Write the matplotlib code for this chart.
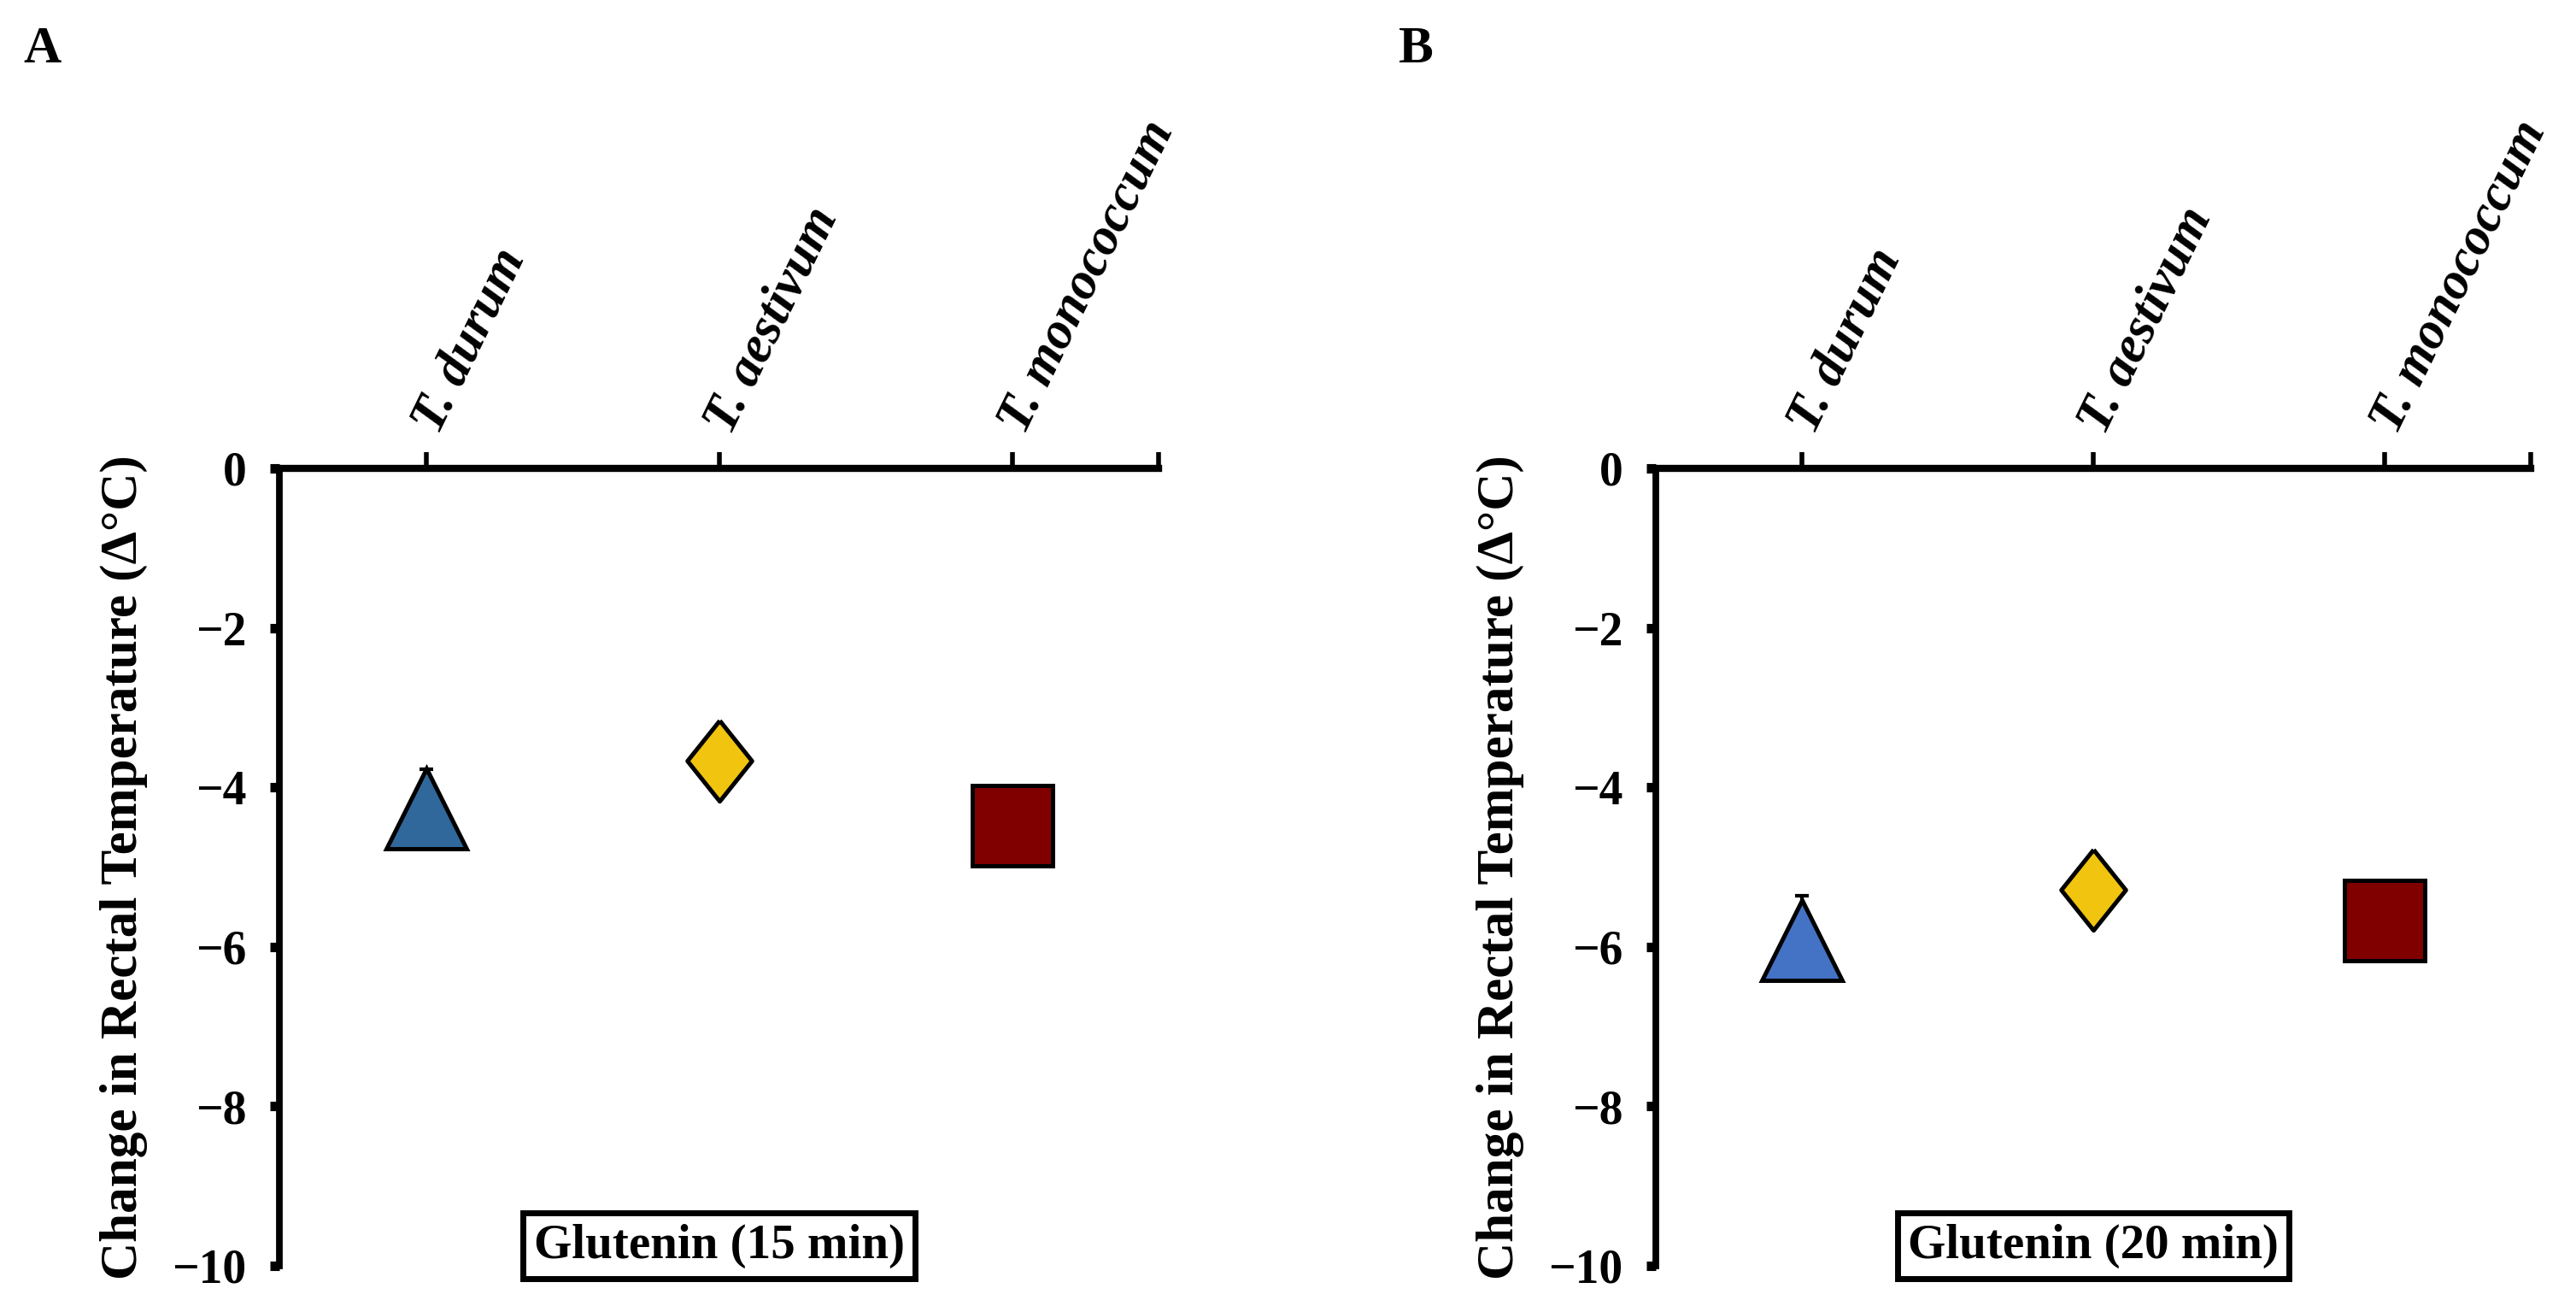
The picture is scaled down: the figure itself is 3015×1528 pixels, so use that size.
import matplotlib
matplotlib.use("Agg")
import matplotlib.pyplot as plt
from matplotlib.ticker import FixedLocator

plt.rcParams['font.family'] = ['Liberation Serif', 'DejaVu Serif']
plt.rcParams['font.weight'] = 'bold'

# data
species = ["T. durum", "T. aestivum", "T. monococcum"]
glut15_mean = [-4.27, -3.67, -4.48]
glut15_err = [0.50, 0.30, 0.30]
glut20_mean = [-5.92, -5.28, -5.67]
glut20_err = [0.56, 0.30, 0.30]
panel_titles = ["Glutenin (15 min)", "Glutenin (20 min)"]
panel_letters = ["A", "B"]
yticks = [0, -2, -4, -6, -8, -10]

diamond = [(0, 1), (0.8, 0), (0, -1), (-0.8, 0), (0, 1)]
markers = ["^", diamond, "s"]
colors_a = ["#31689B", "#F1C40F", "#800000"]
colors_b = ["#4472C4", "#F1C40F", "#800000"]

fig = plt.figure(figsize=(15.075, 7.64), dpi=200)
axA = fig.add_axes([0.1085, 0.0308, 0.3413, 0.6106])
axB = fig.add_axes([0.6428, 0.0308, 0.3396, 0.6106])

panels = [
    (axA, glut15_mean, glut15_err, colors_a),
    (axB, glut20_mean, glut20_err, colors_b),
]

for i, (ax, means, errs, cols) in enumerate(panels):
    xs = list(range(1, len(species) + 1))
    for x, m, e, mk, c in zip(xs, means, errs, markers, cols):
        # only the upper half of the error bar shows above the marker
        ax.errorbar(x, m, yerr=[[0], [e]], fmt="none", ecolor="black",
                    elinewidth=1.5, capsize=3, capthick=1.5, zorder=2)
        ax.plot(x, m, marker=mk, markersize=34, markerfacecolor=c,
                markeredgecolor="black", markeredgewidth=1.8, linestyle="none",
                zorder=3)

    ax.set_xlim(0.5, 3.5)
    ax.set_ylim(-10, 0)
    ax.spines["right"].set_visible(False)
    ax.spines["bottom"].set_visible(False)
    ax.spines["top"].set_linewidth(3)
    ax.spines["left"].set_linewidth(2.8)

    ax.xaxis.tick_top()
    ax.set_xticks(xs)
    ax.set_xticklabels(species, rotation=64, ha="left", va="center",
                       rotation_mode="anchor", fontstyle="italic",
                       fontweight="bold", fontsize=22)
    ax.xaxis.set_minor_locator(FixedLocator([3.5]))
    ax.tick_params(axis="x", which="both", direction="out", length=7,
                   width=2, pad=9)

    ax.set_yticks(yticks)
    ax.set_yticklabels([str(t).replace("-", "\u2212") for t in yticks],
                       fontsize=20, fontweight="bold")
    ax.tick_params(axis="y", direction="out", length=4, width=4, pad=10)
    ax.set_ylabel("Change in Rectal Temperature (\u0394\u00b0C)",
                  fontsize=22, fontweight="bold", labelpad=10)

    ax.text(2, -9.75, panel_titles[i], ha="center", va="center",
            fontsize=20.5, fontweight="bold",
            bbox=dict(boxstyle="square,pad=0.22", facecolor="white",
                      edgecolor="black", linewidth=2.5))

fig.text(0.009, 0.962, panel_letters[0], fontsize=22, fontweight="bold",
         ha="left", va="center")
fig.text(0.543, 0.962, panel_letters[1], fontsize=22, fontweight="bold",
         ha="left", va="center")

fig.savefig("out.png", dpi=200, facecolor="white")
